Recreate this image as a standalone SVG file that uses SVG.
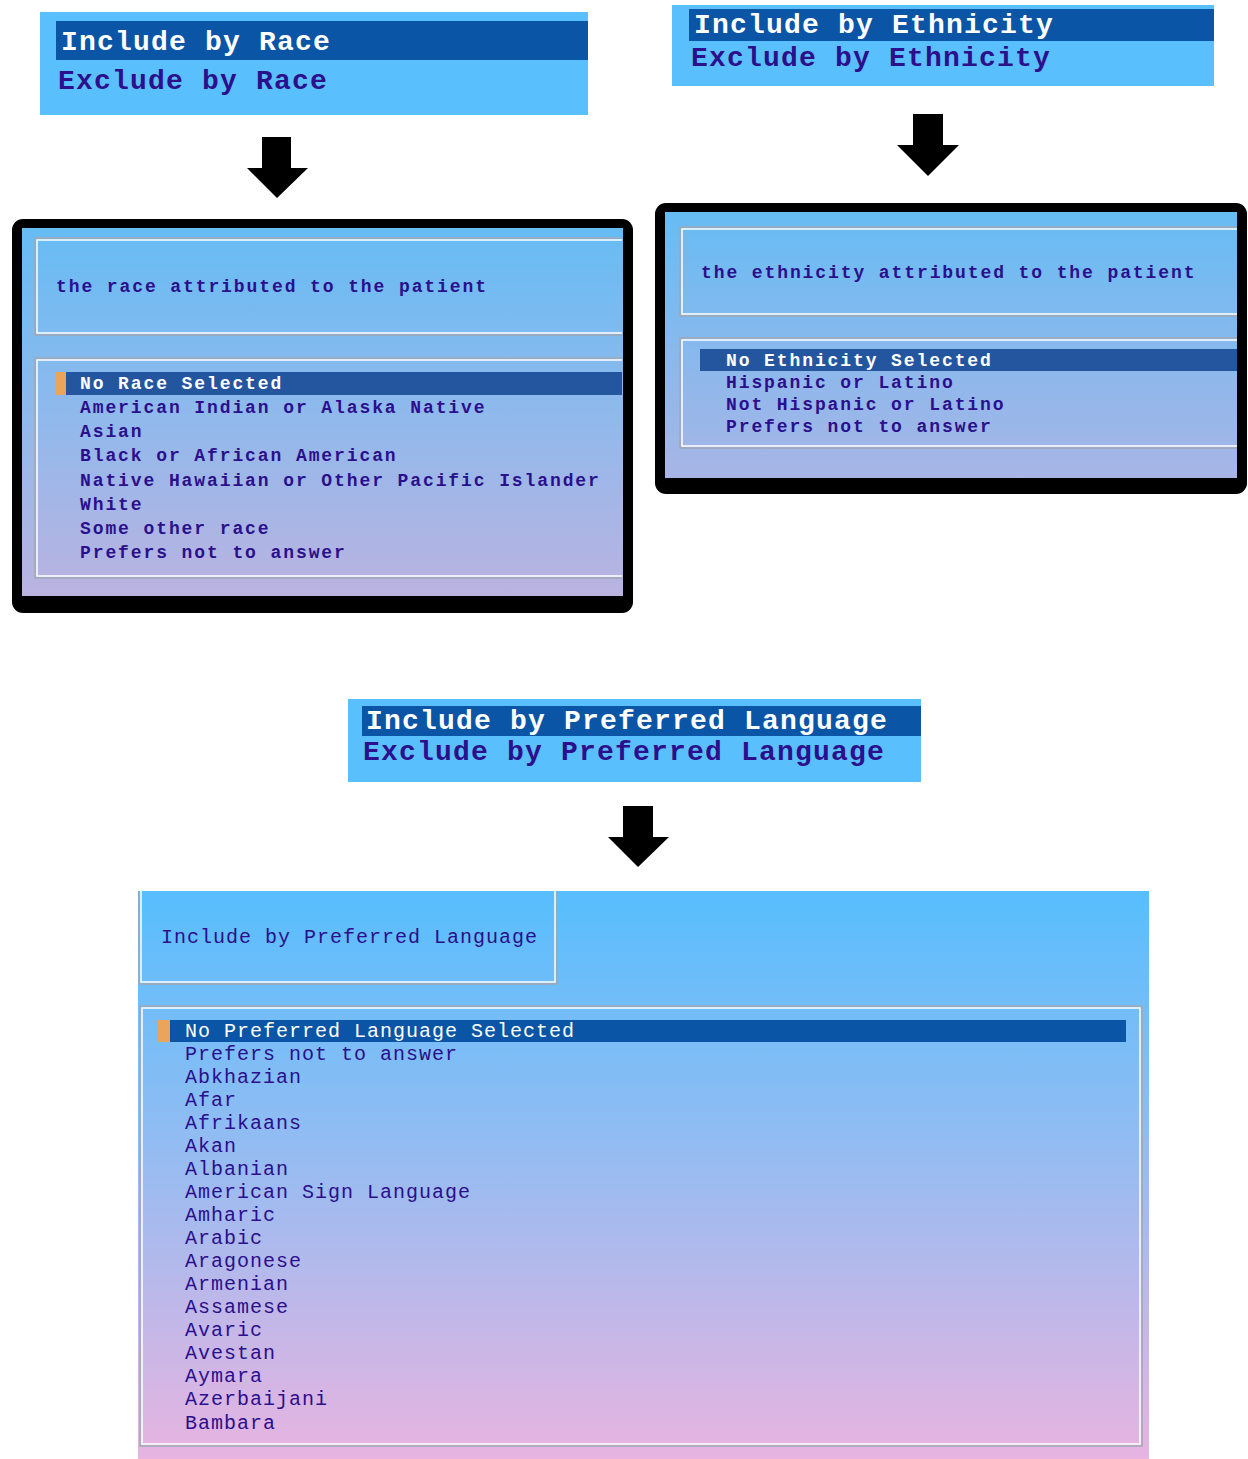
<svg xmlns="http://www.w3.org/2000/svg" width="1248" height="1459" viewBox="0 0 1248 1459">
<defs>
<linearGradient id="gRace" x1="0" y1="0" x2="0" y2="1"><stop offset="0" stop-color="#66bcf4"/><stop offset="0.5" stop-color="#8fb9ec"/><stop offset="1" stop-color="#bab3e0"/></linearGradient>
<linearGradient id="gEth" x1="0" y1="0" x2="0" y2="1"><stop offset="0" stop-color="#66bcf4"/><stop offset="1" stop-color="#a8b5e6"/></linearGradient>
<linearGradient id="gLang" x1="0" y1="0" x2="0" y2="1"><stop offset="0" stop-color="#57befd"/><stop offset="0.45" stop-color="#93bcf2"/><stop offset="1" stop-color="#e8b4e0"/></linearGradient>
<style>
.menu{fill:#59c0fd}
.hl{fill:#0a55a5}
.big{font-family:"Liberation Mono","DejaVu Sans Mono",monospace;font-size:28px;font-weight:bold;letter-spacing:1.2px}
.w{fill:#ffffff}
.ink{fill:#2b0f8c}
.sm{font-family:"Liberation Mono","DejaVu Sans Mono",monospace;font-size:18px;font-weight:bold;letter-spacing:1.9px}
.ln{font-family:"Liberation Mono","DejaVu Sans Mono",monospace;font-size:20px;letter-spacing:1px}
.sel{fill:#2456a0}
.sel2{fill:#0a55a5}
.mark{fill:#eba55a}
.fo{fill:none;stroke:#a0a8b4;stroke-width:1.5}
.fi{fill:none;stroke:#ffffff;stroke-width:1.5}
.arrow{fill:#000000}
</style>
</defs>

<g id="race-menu">
<rect class="menu" x="40" y="12" width="548" height="103"/>
<rect class="hl" x="56" y="21" width="532" height="39"/>
<text class="big w" x="61" y="50">Include by Race</text>
<text class="big ink" x="58" y="89">Exclude by Race</text>
</g>

<g id="eth-menu">
<rect class="menu" x="672" y="5" width="542" height="81"/>
<rect class="hl" x="689" y="9" width="525" height="32"/>
<text class="big w" x="694" y="33">Include by Ethnicity</text>
<text class="big ink" x="691" y="66">Exclude by Ethnicity</text>
</g>

<g id="connectors">
<path class="arrow" d="M262,137 H291 V168 H308 L277,198 L247,168 H262 Z"/>
<path class="arrow" d="M913,114 H943 V145 H959 L928,176 L897,145 H913 Z"/>
<path class="arrow" d="M623,806 H653 V837 H669 L638,867 L608,837 H623 Z"/>
</g>

<g id="race-panel">
<rect x="12" y="219" width="621" height="394" rx="11" fill="#000"/>
<rect x="22" y="228" width="601" height="368" fill="url(#gRace)"/>
<path class="fo" d="M622,238 H35 V335 H622"/>
<path class="fi" d="M622,240 H37 V333 H622"/>
<text class="sm ink" x="56" y="292">the race attributed to the patient</text>
<path class="fo" d="M622,358 H35 V578 H622"/>
<path class="fi" d="M622,360 H37 V576 H622"/>
<rect class="sel" x="56" y="372" width="566" height="23"/>
<rect class="mark" x="56" y="372" width="10" height="23"/>
<text class="sm w" x="80" y="389">No Race Selected</text>
<text class="sm ink" x="80" y="413">American Indian or Alaska Native</text>
<text class="sm ink" x="80" y="437">Asian</text>
<text class="sm ink" x="80" y="461">Black or African American</text>
<text class="sm ink" x="80" y="486">Native Hawaiian or Other Pacific Islander</text>
<text class="sm ink" x="80" y="510">White</text>
<text class="sm ink" x="80" y="534">Some other race</text>
<text class="sm ink" x="80" y="558">Prefers not to answer</text>
</g>

<g id="eth-panel">
<rect x="655" y="203" width="592" height="291" rx="11" fill="#000"/>
<rect x="665" y="212" width="572" height="266" fill="url(#gEth)"/>
<path class="fo" d="M1237,227 H680 V316 H1237"/>
<path class="fi" d="M1237,229 H682 V314 H1237"/>
<text class="sm ink" x="701" y="278">the ethnicity attributed to the patient</text>
<path class="fo" d="M1237,338 H680 V448 H1237"/>
<path class="fi" d="M1237,340 H682 V446 H1237"/>
<rect class="sel" x="700" y="349" width="537" height="22"/>
<text class="sm w" x="726" y="366">No Ethnicity Selected</text>
<text class="sm ink" x="726" y="388">Hispanic or Latino</text>
<text class="sm ink" x="726" y="410">Not Hispanic or Latino</text>
<text class="sm ink" x="726" y="432">Prefers not to answer</text>
</g>

<g id="lang-menu">
<rect class="menu" x="348" y="699" width="573" height="83"/>
<rect class="hl" x="362" y="706" width="559" height="30"/>
<text class="big w" x="366" y="729">Include by Preferred Language</text>
<text class="big ink" x="363" y="760">Exclude by Preferred Language</text>
</g>

<g id="lang-panel">
<rect x="138" y="891" width="1011" height="568" fill="url(#gLang)"/>
<path class="fo" d="M139,891 V984 H557 V891"/>
<path class="fi" d="M141,891 V982 H555 V891"/>
<text class="ln ink" x="161" y="943">Include by Preferred Language</text>
<path class="fo" d="M140,1446 V1006 H1142 V1446 Z"/>
<path class="fi" d="M142,1444 V1008 H1140 V1444 Z"/>
<rect class="sel2" x="158" y="1020" width="968" height="22"/>
<rect class="mark" x="158" y="1020" width="12" height="22"/>
<text class="ln w" x="185" y="1037">No Preferred Language Selected</text>
<text class="ln ink" x="185" y="1060">Prefers not to answer</text>
<text class="ln ink" x="185" y="1083">Abkhazian</text>
<text class="ln ink" x="185" y="1106">Afar</text>
<text class="ln ink" x="185" y="1129">Afrikaans</text>
<text class="ln ink" x="185" y="1152">Akan</text>
<text class="ln ink" x="185" y="1175">Albanian</text>
<text class="ln ink" x="185" y="1198">American Sign Language</text>
<text class="ln ink" x="185" y="1221">Amharic</text>
<text class="ln ink" x="185" y="1244">Arabic</text>
<text class="ln ink" x="185" y="1267">Aragonese</text>
<text class="ln ink" x="185" y="1290">Armenian</text>
<text class="ln ink" x="185" y="1313">Assamese</text>
<text class="ln ink" x="185" y="1336">Avaric</text>
<text class="ln ink" x="185" y="1359">Avestan</text>
<text class="ln ink" x="185" y="1382">Aymara</text>
<text class="ln ink" x="185" y="1405">Azerbaijani</text>
<text class="ln ink" x="185" y="1429">Bambara</text>
</g>
</svg>
